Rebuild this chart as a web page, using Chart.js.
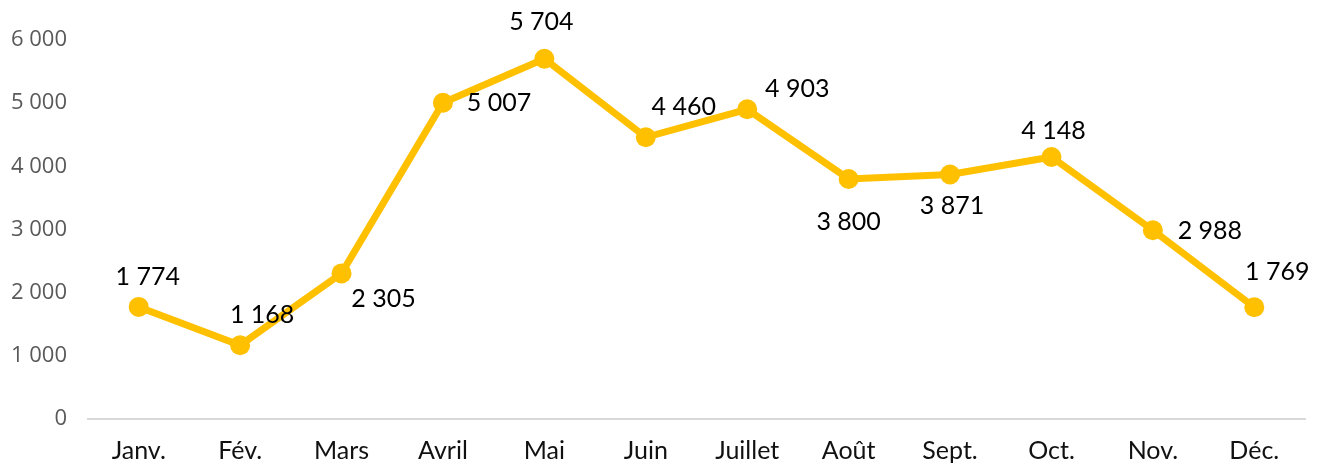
<!DOCTYPE html>
<html>
<head>
<meta charset="utf-8">
<script src="https://cdn.jsdelivr.net/npm/chart.js@4.4.1/dist/chart.umd.min.js"></script>
<style>
  html, body { margin: 0; padding: 0; background: #fff; }
</style>
</head>
<body>
<canvas id="monthly_trend" width="1321" height="467"></canvas>
<script>
// Month labels and monthly totals
const months = ["Janv.", "Fév.", "Mars", "Avril", "Mai", "Juin", "Juillet", "Août", "Sept.", "Oct.", "Nov.", "Déc."];
const totals = [1774, 1168, 2305, 5007, 5704, 4460, 4903, 3800, 3871, 4148, 2988, 1769];
const yTicks = [0, 1000, 2000, 3000, 4000, 5000, 6000];

// where each value label sits relative to its point (px)
const labelOffsets = [
    [9, -30], [22, -30], [42, 26], [56, 0], [-3, -37], [38, -30],
    [50, -20], [0, 43], [2, 31], [2, -26], [57, 1], [23, -35]
];

// French style thousands: "1 774"
const fmt = (v) => String(v).replace(/\B(?=(\d{3})+(?!\d))/g, " ");

const valueLabels = {
    id: "valueLabels",
    afterDatasetsDraw(chart) {
        const ctx = chart.ctx;
        const meta = chart.getDatasetMeta(0);
        ctx.save();
        ctx.font = "25px Lato";
        ctx.fillStyle = "#000";
        ctx.textAlign = "center";
        ctx.textBaseline = "middle";
        meta.data.forEach((pt, i) => {
            const off = labelOffsets[i];
            ctx.fillText(fmt(totals[i]), pt.x + off[0], pt.y + off[1]);
        });
        ctx.restore();
    },
};

new Chart(document.getElementById("monthly_trend"), {
    type: "line",
    data: {
        labels: months,
        datasets: [{
            data: totals,
            borderColor: "#FFC000",
            backgroundColor: "#FFC000",
            borderWidth: 7,
            pointRadius: 10,
            pointBorderWidth: 0,
            pointBackgroundColor: "#FFC000",
            tension: 0,
            clip: false,
        }],
    },
    options: {
        responsive: false,
        animation: false,
        layout: { padding: { top: 40, right: 16, bottom: 0, left: 0 } },
        plugins: {
            legend: { display: false },
            tooltip: { enabled: false },
        },
        scales: {
            x: {
                offset: true,
                grid: { display: false, drawTicks: false },
                border: { display: true, color: "#d9d9d9", width: 2 },
                ticks: {
                    color: "#111",
                    font: { family: "Lato", size: 25 },
                    padding: 17,
                    maxRotation: 0,
                },
                afterFit(scale) { scale.height = 48; },
            },
            y: {
                min: 0,
                max: 6000,
                grid: { display: false, drawTicks: false },
                border: { display: false },
                afterBuildTicks(scale) { scale.ticks = yTicks.map((v) => ({ value: v })); },
                ticks: {
                    color: "#595959",
                    font: { family: "Open Sans", size: 22 },
                    padding: 21,
                    callback: (v) => fmt(v),
                },
                afterFit(scale) { scale.width = 88; },
            },
        },
    },
    plugins: [valueLabels],
});
</script>
</body>
</html>
